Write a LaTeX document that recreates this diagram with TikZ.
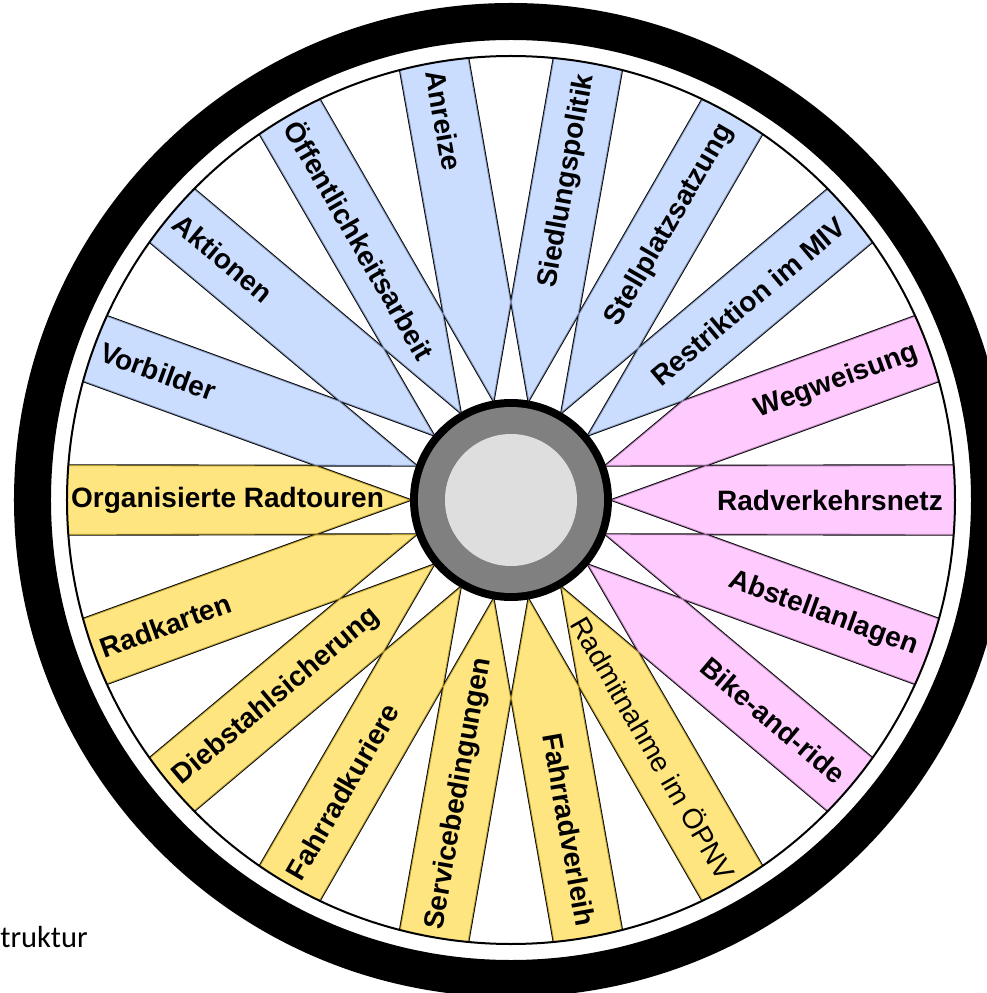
\documentclass[tikz,border=0pt]{standalone}
\usepackage{fontspec}
\setmainfont{Liberation Sans}
\newfontfamily\calibfont{Carlito}
\newfontfamily\regfont{Liberation Sans}
\usetikzlibrary{calc}
\definecolor{blfill}{rgb}{0.714,0.81,1}
\definecolor{pkfill}{rgb}{1,0.714,1}
\definecolor{yefill}{rgb}{1,0.86,0.286}
\definecolor{hubgray}{HTML}{808080}
\definecolor{hublight}{HTML}{DEDEDE}
\tikzset{
  spokeline/.style={line width=1.8pt, black},
  spokefill/.style={fill opacity=0.7},
  lab/.style={inner sep=0pt, font=\fontsize{28}{30}\selectfont\bfseries},
  labreg/.style={inner sep=0pt, font=\regfont\fontsize{28}{30}\selectfont},
}
\begin{document}
\begin{tikzpicture}[x=1pt,y=1pt]
\useasboundingbox (-511,-493) rectangle (476,500);
\clip (-511,-493) rectangle (476,500);
\fill[white] (-511,-493) rectangle (476,500);
% spoke lines
\foreach \t in {0,20,...,340} {
  \draw[spokeline] (\t:100) -- (\t+15.5:444);
  \draw[spokeline] (\t:100) -- (\t-15.5:444);
}
% spoke fills
\foreach \t/\c in {0/pkfill,20/pkfill,40/blfill,60/blfill,80/blfill,100/blfill,120/blfill,140/blfill,160/blfill,180/yefill,200/yefill,220/yefill,240/yefill,260/yefill,280/yefill,300/yefill,320/pkfill,340/pkfill} {
  \coordinate (H) at (\t:100);
  \coordinate (P1) at (\t+15.5:444);
  \coordinate (Q1) at (\t+20:100);
  \coordinate (Rp) at (\t+4.5:444);
  \coordinate (P2) at (\t-15.5:444);
  \coordinate (Q2) at (\t-20:100);
  \coordinate (Rm) at (\t-4.5:444);
  \coordinate (A) at (intersection of H--P1 and Q1--Rp);
  \coordinate (B) at (intersection of H--P2 and Q2--Rm);
  \fill[\c, spokefill] (H) -- (A) -- (Rp) arc[start angle=\t+4.5, end angle=\t-4.5, radius=444] -- (B) -- cycle;
}
% rim and tire
\draw[line width=2pt] (0,0) circle (444);
\draw[line width=37pt] (0,0) circle (478.5);
% hub
\fill[black] (0,0) circle (101);
\fill[hubgray] (0,0) circle (93);
\fill[hublight] (0,0) circle (66);
% labels right half
\node[lab, rotate=0, anchor=east] (l0) at (0:432) {Radverkehrsnetz};
\node[lab, rotate=20, anchor=east] (l20) at (20:432) {Wegweisung};
\node[lab, rotate=40, anchor=east] (l40) at (40:432) {Restriktion im MIV};
\node[lab, rotate=60, anchor=east] (l60) at (60:432) {Stellplatzsatzung};
\node[lab, rotate=80, anchor=east] (l80) at (80:432) {Siedlungspolitik};
\node[lab, rotate=-80, anchor=east] (l280) at (280:432) {Fahrradverleih};
\node[labreg, rotate=-60, anchor=east] (l300) at (300:436) {Radmitnahme im ÖPNV};
\node[lab, rotate=-40, anchor=east] (l320) at (320:432) {Bike-and-ride};
\node[lab, rotate=-20, anchor=east] (l340) at (340:432) {Abstellanlagen};
% labels left half
\node[lab, rotate=-80, anchor=west] (l100) at (100:436) {Anreize};
\node[lab, rotate=-60, anchor=west] (l120) at (120:436) {Öffentlichkeitsarbeit};
\node[lab, rotate=-40, anchor=west] (l140) at (140:436) {Aktionen};
\node[lab, rotate=-20, anchor=west] (l160) at (160:436) {Vorbilder};
\node[lab, rotate=0, anchor=west] (l180) at (180:440) {Organisierte Radtouren};
\node[lab, rotate=20, anchor=west] (l200) at (200:436) {Radkarten};
\node[lab, rotate=40, anchor=west] (l220) at (220:436) {Diebstahlsicherung};
\node[lab, rotate=60, anchor=west] (l240) at (240:436) {Fahrradkuriere};
\node[lab, rotate=80, anchor=west] (l260) at (260:436) {Servicebedingungen};
% cut-off caption text
\node[inner sep=0pt, anchor=base east, font=\calibfont\fontsize{30.5}{32}\selectfont] (cap) at (-423,-447) {truktur};
\end{tikzpicture}
\end{document}
